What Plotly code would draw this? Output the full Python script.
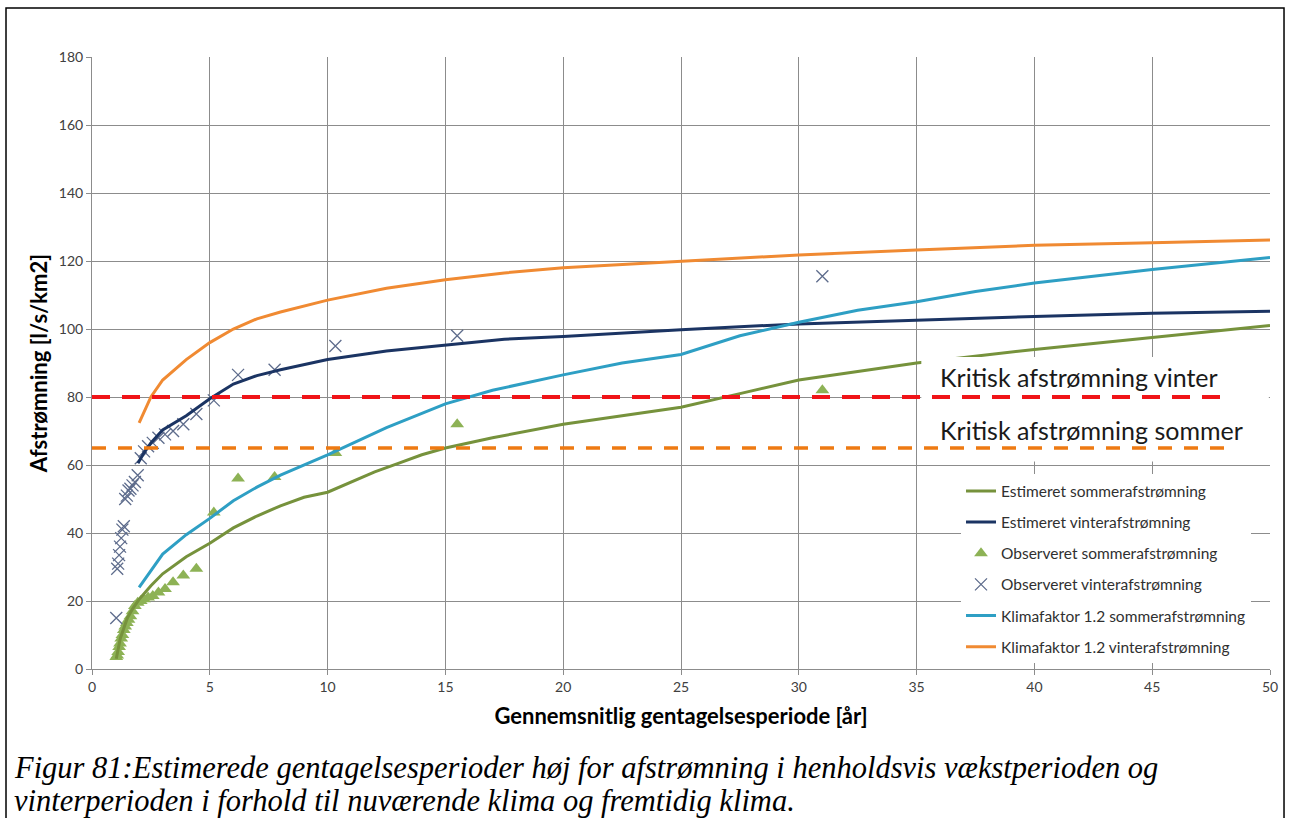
import plotly.graph_objects as go

# ---------------- data ----------------
est_summer_x = [1.03, 1.1, 1.2, 1.35, 1.5, 1.75, 2, 2.5, 3, 4, 5, 6, 7, 8, 9, 10, 11, 12, 13, 14, 15, 17, 20, 23, 25, 27.5, 30, 35, 40, 45, 50]
est_summer_y = [3, 6, 9, 12, 15, 18, 20.5, 24.5, 28, 33, 37, 41.5, 45, 48, 50.5, 52, 55, 58, 60.5, 63, 65, 68, 72, 75, 77, 81, 85, 90, 94, 97.5, 101]

est_winter_x = [1.95, 2.2, 2.5, 3, 4, 5, 6, 7, 8, 10, 12.5, 15, 17.5, 20, 25, 30, 35, 40, 45, 50]
est_winter_y = [60.5, 63.5, 66.5, 70.3, 74.5, 79.5, 83.8, 86.3, 88, 91, 93.5, 95.3, 97, 97.8, 99.8, 101.5, 102.7, 103.7, 104.6, 105.2]

obs_x = [31, 15.5, 10.33, 7.75, 6.2, 5.17, 4.43, 3.875, 3.44, 3.1, 2.82, 2.58, 2.38, 2.21, 2.07,
         1.94, 1.82, 1.72, 1.63, 1.55, 1.48, 1.41, 1.35, 1.29, 1.24, 1.19, 1.15, 1.11, 1.07, 1.03]
obs_summer_y = [82, 72, 63.5, 56.5, 56, 46, 29.5, 27.5, 25.5, 23.5, 22.5, 21.5, 21, 20.5, 20,
                19.5, 18.5, 17, 15.5, 14.5, 13.5, 12.5, 11.5, 10, 9, 7.5, 6.5, 5, 4, 3.5]
obs_winter_y = [115.5, 98, 95, 88, 86.5, 79, 75, 72, 70, 69, 68, 66.5, 65.5, 64, 62,
                57, 55, 54, 53, 52.5, 51, 50, 42, 41, 38.5, 36, 33.5, 31, 29.5, 15]

klima_summer_x = [2, 3, 4, 5, 6, 7, 8, 10, 12.5, 15, 17, 20, 22.5, 25, 27.5, 30, 32.5, 35, 37.5, 40, 45, 50]
klima_summer_y = [24, 33.8, 39.5, 44.3, 49.5, 53.5, 57, 63, 71, 78, 82, 86.5, 90, 92.5, 98, 102, 105.5, 108, 111, 113.5, 117.5, 121]

klima_winter_x = [2, 2.5, 3, 4, 5, 6, 7, 8, 10, 12.5, 15, 17.5, 20, 25, 30, 35, 40, 45, 50]
klima_winter_y = [72.4, 80, 85, 91, 96, 100, 103, 105, 108.5, 112, 114.5, 116.5, 118, 119.8, 121.8, 123.2, 124.6, 125.4, 126.2]

crit_winter = 80
crit_summer = 65

x_ticks = [0, 5, 10, 15, 20, 25, 30, 35, 40, 45, 50]
y_ticks = [0, 20, 40, 60, 80, 100, 120, 140, 160, 180]

names = ["Estimeret sommerafstrømning", "Estimeret vinterafstrømning",
         "Observeret sommerafstrømning", "Observeret vinterafstrømning",
         "Klimafaktor 1.2 sommerafstrømning", "Klimafaktor 1.2 vinterafstrømning"]

# ---------------- figure ----------------
SANS = "Lato, Carlito, Calibri, sans-serif"
SERIF = "Liberation Serif, Times New Roman, serif"
fig = go.Figure()

fig.add_trace(go.Scatter(x=obs_x, y=obs_summer_y, mode="markers", name=names[2], legendgroup="g3", legendrank=3,
                         marker=dict(symbol="triangle-up", size=12, color="#8DB255")))
fig.add_trace(go.Scatter(x=obs_x, y=obs_winter_y, mode="markers", name=names[3], legendgroup="g4", legendrank=4,
                         marker=dict(symbol="x-thin-open", size=12, color="#5E6C8C",
                                     line=dict(width=1.3, color="#5E6C8C"))))
fig.add_trace(go.Scatter(x=est_summer_x, y=est_summer_y, mode="lines", name=names[0], legendgroup="g1", legendrank=1,
                         line=dict(color="#76923C", width=3)))
fig.add_trace(go.Scatter(x=est_winter_x, y=est_winter_y, mode="lines", name=names[1], legendgroup="g2", legendrank=2,
                         line=dict(color="#1B3463", width=3)))
fig.add_trace(go.Scatter(x=klima_summer_x, y=klima_summer_y, mode="lines", name=names[4], legendgroup="g5", legendrank=5,
                         line=dict(color="#2E9FC4", width=3)))
fig.add_trace(go.Scatter(x=klima_winter_x, y=klima_winter_y, mode="lines", name=names[5], legendgroup="g6", legendrank=6,
                         line=dict(color="#F08A32", width=3)))

shapes = [
    # white box behind the critical-level labels
    dict(type="rect", xref="x", yref="y", x0=35.2, x1=49.95, y0=61, y1=91.8,
         fillcolor="white", line=dict(width=0), layer="above"),
    dict(type="line", xref="x", yref="y", x0=0, x1=48.2, y0=crit_winter, y1=crit_winter,
         line=dict(color="#F01418", width=4, dash="18px,12px"), layer="above"),
    dict(type="line", xref="x", yref="y", x0=0, x1=48.2, y0=crit_summer, y1=crit_summer,
         line=dict(color="#EE7A12", width=3.5, dash="14px,12px"), layer="above"),
    # outer frame
    dict(type="rect", xref="paper", yref="paper", x0=-0.0730, x1=1.0119, y0=-0.30, y1=1.0800,
         line=dict(color="black", width=1.5), fillcolor="rgba(0,0,0,0)", layer="above"),
]

annotations = [
    dict(text="Kritisk afstrømning vinter", x=35.9, y=86.0, xref="x", yref="y", xanchor="left",
         yanchor="middle", showarrow=False, font=dict(family=SANS, size=25, color="#1a1a1a")),
    dict(text="Kritisk afstrømning sommer", x=35.9, y=70.3, xref="x", yref="y", xanchor="left",
         yanchor="middle", showarrow=False, font=dict(family=SANS, size=25, color="#1a1a1a")),
    dict(text="<i>Figur 81:Estimerede gentagelsesperioder høj for afstrømning i henholdsvis vækstperioden og</i>",
         x=-0.0680, y=-0.1618, xref="paper", yref="paper", xanchor="left", yanchor="middle", showarrow=False,
         font=dict(family=SERIF, size=30.5, color="black")),
    dict(text="<i>vinterperioden i forhold til nuværende klima og fremtidig klima.</i>",
         x=-0.0680, y=-0.2157, xref="paper", yref="paper", xanchor="left", yanchor="middle", showarrow=False,
         font=dict(family=SERIF, size=30.5, color="black")),
]

fig.update_layout(
    width=1289, height=818,
    margin=dict(l=92, r=19, t=57, b=149),
    paper_bgcolor="white", plot_bgcolor="white",
    font=dict(family=SANS, color="#404040"),
    shapes=shapes, annotations=annotations,
    showlegend=True,
    legend=dict(x=0.7377, y=0.318, xanchor="left", yanchor="top", bgcolor="white",
                font=dict(family=SANS, size=15.5, color="#303030"),
                traceorder="grouped", tracegroupgap=8, itemwidth=30),
)

fig.update_xaxes(range=[0, 50], tickvals=x_ticks, showgrid=True, gridcolor="#8C8C8C", gridwidth=1,
                 showline=True, linecolor="#8C8C8C", linewidth=1, ticks="outside", ticklen=5,
                 tickcolor="#8C8C8C", tickfont=dict(family=SANS, size=14, color="#404040"),
                 zeroline=False,
                 title=dict(text="<b>Gennemsnitlig gentagelsesperiode [år]</b>", standoff=14,
                            font=dict(family=SANS, size=22, color="#000000")))
fig.update_yaxes(range=[0, 180], tickvals=y_ticks, showgrid=True, gridcolor="#8C8C8C", gridwidth=1,
                 showline=True, linecolor="#8C8C8C", linewidth=1, ticks="outside", ticklen=5,
                 tickcolor="#8C8C8C", tickfont=dict(family=SANS, size=14, color="#404040"),
                 zeroline=False,
                 title=dict(text="<b>Afstrømning [l/s/km2]</b>", standoff=5,
                            font=dict(family=SANS, size=22, color="#000000")))

fig.write_html("out.html", config={"displayModeBar": False},
               post_script="document.body.style.margin='0px';document.body.style.overflow='hidden';")
